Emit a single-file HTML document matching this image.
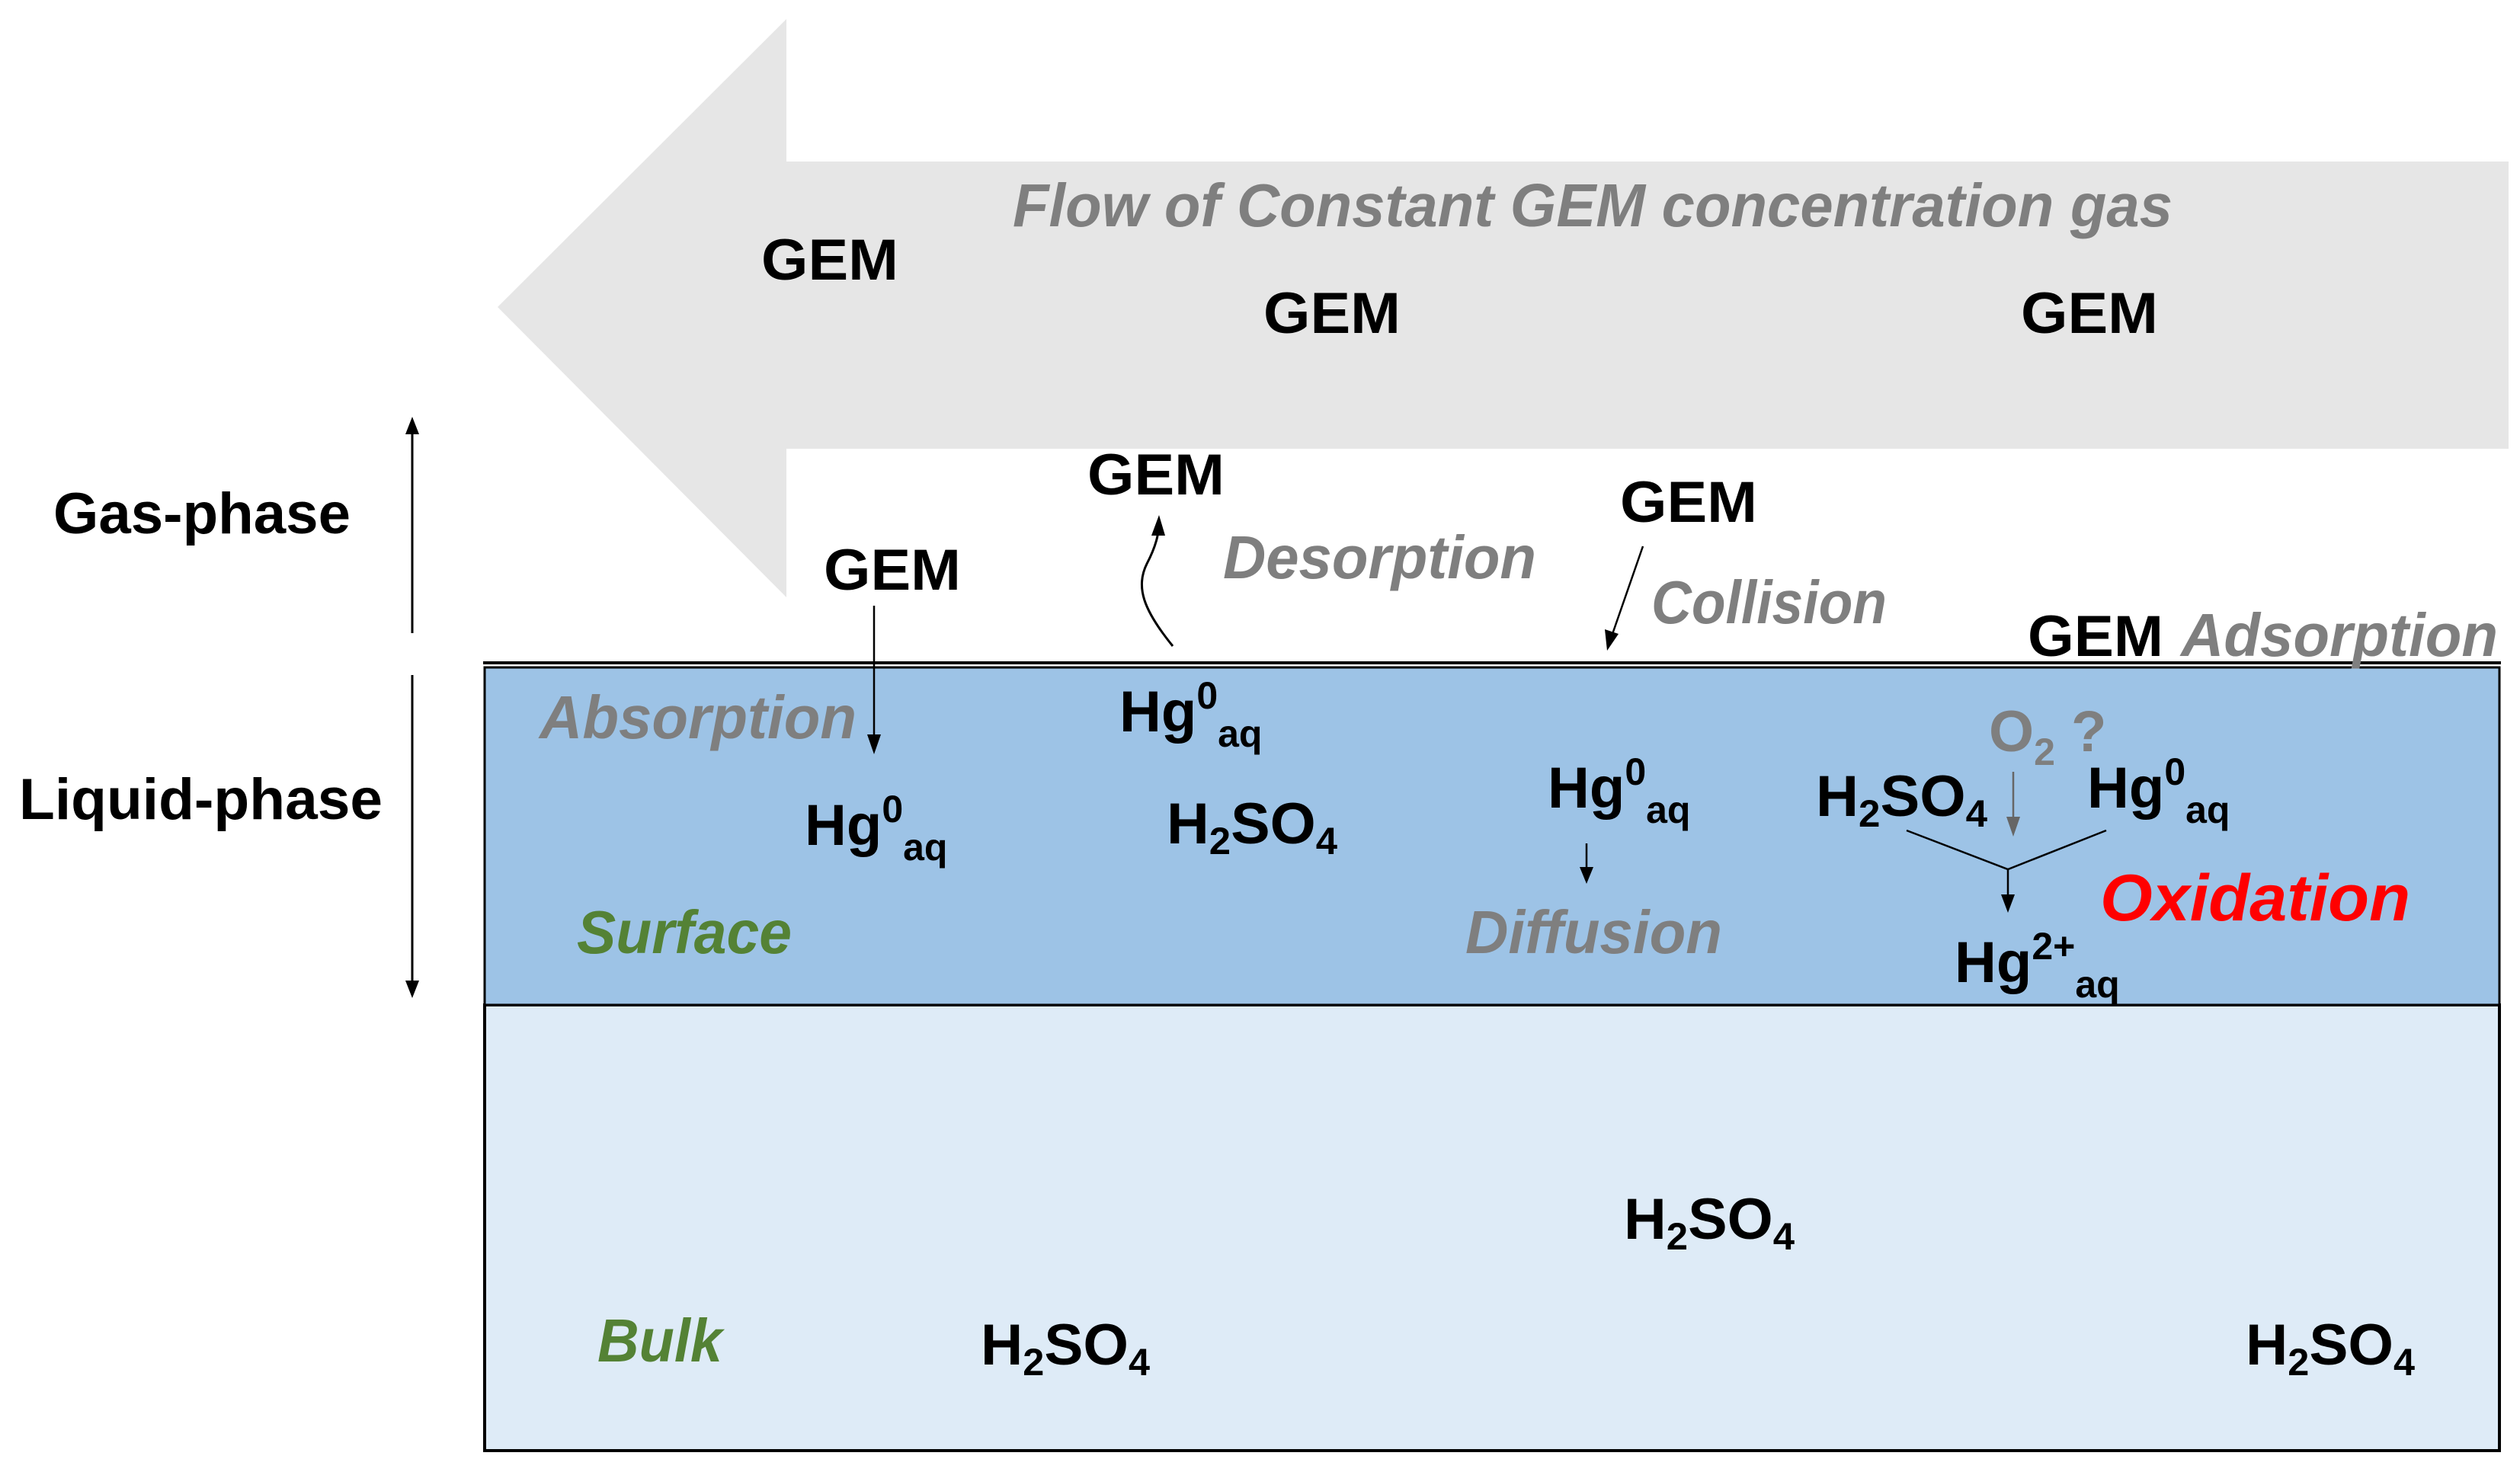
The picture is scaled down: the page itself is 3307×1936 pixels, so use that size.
<!DOCTYPE html>
<html><head><meta charset="utf-8"><style>
html,body{margin:0;padding:0;background:#fff;}
svg{display:block;}
text{font-family:"Liberation Sans",sans-serif;font-weight:bold;}
.k{fill:#000;font-size:76px;}
.g{fill:#7f7f7f;font-style:italic;font-size:80px;}
.gr{fill:#548235;font-style:italic;font-size:80px;}
</style></head><body>
<svg width="3307" height="1936" viewBox="0 0 3307 1936" xmlns="http://www.w3.org/2000/svg">
<defs>
<marker id="ah" markerWidth="10" markerHeight="10" refX="8" refY="5" orient="auto" markerUnits="userSpaceOnUse" viewBox="0 0 10 10">
</marker>
</defs>
<!-- big arrow -->
<polygon points="653,403 1032,25 1032,212 3292,212 3292,589 1032,589 1032,784" fill="#e6e6e6"/>
<!-- rectangles -->
<rect x="636" y="1319" width="2644" height="585" fill="#deebf7" stroke="#000" stroke-width="4"/>
<rect x="636" y="876" width="2644" height="443" fill="#9dc3e6" stroke="#000" stroke-width="3"/>
<line x1="634" y1="870" x2="3282" y2="870" stroke="#000" stroke-width="4"/>

<!-- left vertical arrows -->
<line x1="541" y1="831" x2="541" y2="565" stroke="#000" stroke-width="3"/>
<polygon points="541,547 532,570 550,570" fill="#000"/>
<line x1="541" y1="886" x2="541" y2="1290" stroke="#000" stroke-width="3"/>
<polygon points="541,1310 532,1287 550,1287" fill="#000"/>

<!-- absorption arrow -->
<line x1="1147" y1="795" x2="1147" y2="970" stroke="#000" stroke-width="2.5"/>
<polygon points="1147,990 1138,964 1156,964" fill="#000"/>
<!-- desorption squiggle -->
<path d="M1539,848 C1500,800 1490,770 1505,740 C1518,715 1520,700 1520,695" fill="none" stroke="#000" stroke-width="3"/>
<polygon points="1521,676 1511,703 1529,703" fill="#000"/>
<!-- collision arrow -->
<line x1="2156" y1="717" x2="2115" y2="835" stroke="#000" stroke-width="2.5"/>
<polygon points="2109,854 2106,826 2124,832" fill="#000"/>
<!-- diffusion arrow -->
<line x1="2082" y1="1107" x2="2082" y2="1142" stroke="#000" stroke-width="2.5"/>
<polygon points="2082,1160 2073,1138 2091,1138" fill="#000"/>
<!-- O2 arrow -->
<line x1="2642" y1="1013" x2="2642" y2="1076" stroke="#666" stroke-width="2.5"/>
<polygon points="2642,1098 2633,1072 2651,1072" fill="#666"/>
<!-- V lines -->
<polyline points="2502,1090 2635,1141 2764,1090" fill="none" stroke="#000" stroke-width="2.5"/>
<line x1="2635" y1="1141" x2="2635" y2="1180" stroke="#000" stroke-width="2.5"/>
<polygon points="2635,1198 2626,1174 2644,1174" fill="#000"/>

<!-- texts -->
<text class="g" x="1329" y="297" textLength="1522" lengthAdjust="spacingAndGlyphs">Flow of Constant GEM concentration gas</text>
<text class="k" x="999" y="367" textLength="180" lengthAdjust="spacingAndGlyphs">GEM</text>
<text class="k" x="1658" y="437" textLength="180" lengthAdjust="spacingAndGlyphs">GEM</text>
<text class="k" x="2652" y="437" textLength="180" lengthAdjust="spacingAndGlyphs">GEM</text>
<text class="k" x="1427" y="649" textLength="180" lengthAdjust="spacingAndGlyphs">GEM</text>
<text class="k" x="2126" y="685" textLength="180" lengthAdjust="spacingAndGlyphs">GEM</text>
<text class="k" x="1081" y="774" textLength="180" lengthAdjust="spacingAndGlyphs">GEM</text>
<text class="k" x="2661" y="861" textLength="178" lengthAdjust="spacingAndGlyphs">GEM</text>
<text class="g" x="2862" y="861" textLength="416" lengthAdjust="spacingAndGlyphs">Adsorption</text>
<text class="g" x="1605" y="759" textLength="411" lengthAdjust="spacingAndGlyphs">Desorption</text>
<text class="g" x="2167" y="818" textLength="309" lengthAdjust="spacingAndGlyphs">Collision</text>
<text class="k" x="70" y="700" textLength="390" lengthAdjust="spacingAndGlyphs">Gas-phase</text>
<text class="k" x="25" y="1075" textLength="477" lengthAdjust="spacingAndGlyphs">Liquid-phase</text>
<text class="g" x="708" y="969" textLength="416" lengthAdjust="spacingAndGlyphs">Absorption</text>
<text class="gr" x="757" y="1251" textLength="282" lengthAdjust="spacingAndGlyphs">Surface</text>
<text class="gr" x="784" y="1787" textLength="164" lengthAdjust="spacingAndGlyphs">Bulk</text>
<text class="g" x="1923" y="1251" textLength="337" lengthAdjust="spacingAndGlyphs">Diffusion</text>
<text x="2756" y="1208" textLength="407" lengthAdjust="spacingAndGlyphs" style="fill:#ff0000;font-style:italic;font-size:86px;">Oxidation</text>

<!-- Hg0aq -->
<text class="k" x="1469" y="960">Hg<tspan font-size="50" dy="-30">0</tspan><tspan font-size="50" dy="50">aq</tspan></text>
<text class="k" x="1056" y="1109">Hg<tspan font-size="50" dy="-30">0</tspan><tspan font-size="50" dy="50">aq</tspan></text>
<text class="k" x="2031" y="1060">Hg<tspan font-size="50" dy="-30">0</tspan><tspan font-size="50" dy="50">aq</tspan></text>
<text class="k" x="2739" y="1060">Hg<tspan font-size="50" dy="-30">0</tspan><tspan font-size="50" dy="50">aq</tspan></text>
<text class="k" x="2565" y="1289">Hg<tspan font-size="50" dy="-30">2+</tspan><tspan font-size="50" dy="50">aq</tspan></text>

<!-- O2 ? -->
<text x="2610" y="986" style="fill:#7f7f7f;font-size:76px;">O<tspan font-size="50" dy="18">2</tspan><tspan font-size="76" dy="-18"> ?</tspan></text>

<!-- H2SO4 -->
<text class="k" x="1531" y="1107" textLength="224" lengthAdjust="spacingAndGlyphs">H<tspan font-size="50" dy="14">2</tspan><tspan dy="-14">SO</tspan><tspan font-size="50" dy="14">4</tspan></text>
<text class="k" x="2383" y="1071" textLength="225" lengthAdjust="spacingAndGlyphs">H<tspan font-size="50" dy="14">2</tspan><tspan dy="-14">SO</tspan><tspan font-size="50" dy="14">4</tspan></text>
<text class="k" x="2131" y="1626" textLength="224" lengthAdjust="spacingAndGlyphs">H<tspan font-size="50" dy="14">2</tspan><tspan dy="-14">SO</tspan><tspan font-size="50" dy="14">4</tspan></text>
<text class="k" x="1287" y="1791" textLength="222" lengthAdjust="spacingAndGlyphs">H<tspan font-size="50" dy="14">2</tspan><tspan dy="-14">SO</tspan><tspan font-size="50" dy="14">4</tspan></text>
<text class="k" x="2947" y="1791" textLength="222" lengthAdjust="spacingAndGlyphs">H<tspan font-size="50" dy="14">2</tspan><tspan dy="-14">SO</tspan><tspan font-size="50" dy="14">4</tspan></text>
</svg>
</body></html>
